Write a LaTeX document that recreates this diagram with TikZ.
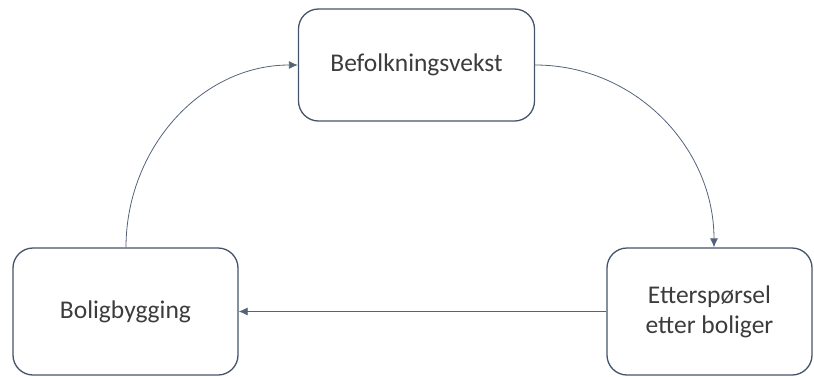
\documentclass[tikz,border=0pt]{standalone}
\usepackage{fontspec}
\setmainfont{Carlito}
\usetikzlibrary{arrows.meta}
\definecolor{boxline}{RGB}{68,84,106}
\definecolor{arrowline}{RGB}{84,100,120}
\definecolor{textgrey}{RGB}{60,60,60}

\begin{document}
\begin{tikzpicture}[x=1pt, y=-1pt,
  box/.style={draw=boxline, line width=1.3pt, rounded corners=20pt, align=center,
    text=textgrey, font=\fontsize{25.5}{30}\selectfont, inner sep=0pt},
  link/.style={draw=arrowline, line width=0.8pt, -{Latex[length=9pt, width=8pt]}}]
\useasboundingbox (0,0) rectangle (814,376);
\node[box, minimum width=236pt, minimum height=112pt] at (416.5,65) (vekst) {Befolkningsvekst};
\node[box, minimum width=225pt, minimum height=127pt] at (125.5,311.5) (bygging) {Boligbygging};
\node[box, minimum width=205pt, minimum height=127pt] at (709.5,311.5) (sporsel) {Etterspørsel\\etter boliger};

\draw[link] (vekst.east) to[out=0, in=90] ([xshift=4.5pt]sporsel.north);
\draw[link] (sporsel.west) to (bygging.east);
\draw[link] ([xshift=0.5pt]bygging.north) to[out=90, in=180] (vekst.west);
\end{tikzpicture}
\end{document}
